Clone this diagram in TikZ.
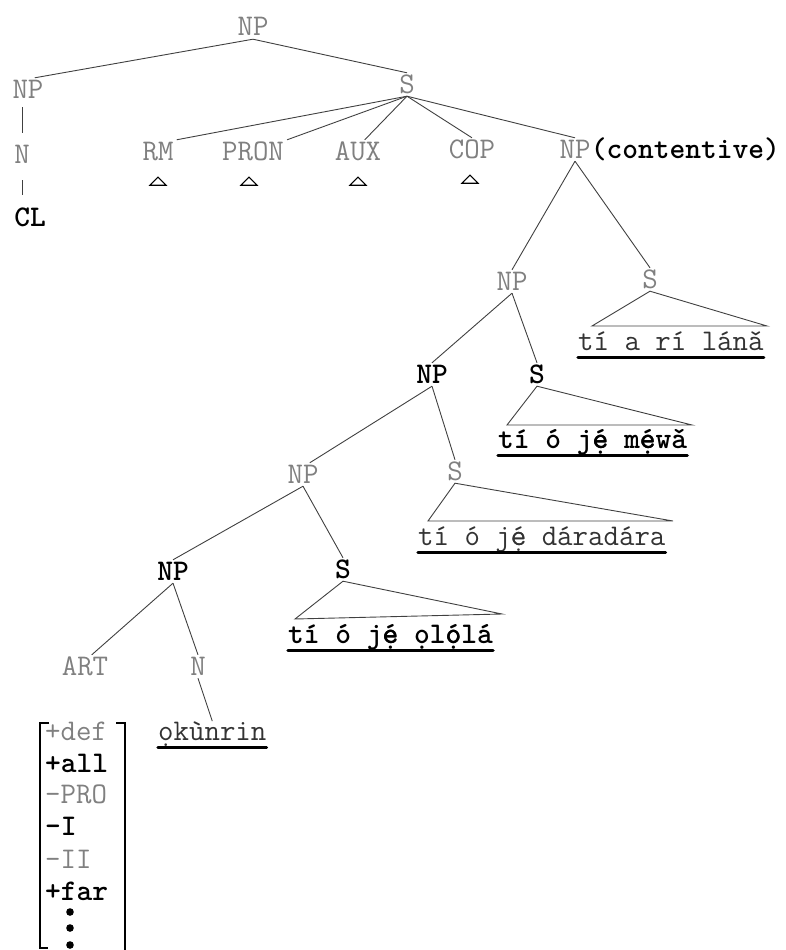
\documentclass[tikz,border=0pt]{standalone}
\usetikzlibrary{positioning,calc}
\newcommand\dotac[2]{\ooalign{#1\cr#2}}
\begin{document}
\begin{tikzpicture}[x=1pt,y=-1pt,font=\ttfamily\fontsize{30}{34}\selectfont,
  lab/.style={inner sep=3pt,text height=17pt,text depth=0pt,anchor=base},
  lite/.style={lab,text=black!50},
  dark/.style={lab,text=black,font=\ttfamily\bfseries\fontsize{30}{34}\selectfont},
  branch/.style={draw=black!75,line width=0.9pt},
  tri/.style={draw=black,line width=1.1pt},
  yor/.style={anchor=base west,inner sep=0pt,text depth=7pt,text=black!80},
  yorb/.style={yor,text=black,font=\ttfamily\bfseries\fontsize{30}{34}\selectfont},
  uline/.style={line width=3.2pt,line cap=round},
  flite/.style={anchor=base west,inner sep=0pt,text=black!50},
  fdark/.style={flite,text=black,font=\ttfamily\bfseries\fontsize{30}{34}\selectfont}]
\useasboundingbox (0,0) rectangle (786,950);
\node[lite] (root) at (253,36) {NP};
\node[lite] (np1) at (28,98) {NP};
\node[lite] (n1) at (22,163) {N};
\node[dark] (cl) at (30,226) {CL};
\node[lite] (s1) at (407,93) {S};
\node[lite] (rm) at (158,160) {RM};
\node[lite] (pron) at (253,160) {PRON};
\node[lite] (aux) at (358,160) {AUX};
\node[lite] (cop) at (472,158) {COP};
\node[lite] (npc) at (575,158) {NP};
\node[dark,base right=-6pt of npc] (cont) {(contentive)};
\node[lite] (np2) at (512,290) {NP};
\node[lite] (s2) at (650,288) {S};
\node[dark] (np3) at (432,383) {NP};
\node[dark] (s3) at (537,383) {S};
\node[lite] (np4) at (303,483) {NP};
\node[lite] (s4) at (455,480) {S};
\node[dark] (np5) at (173,580) {NP};
\node[dark] (s5) at (343,578) {S};
\node[lite] (art) at (85,675) {ART};
\node[lite] (n2) at (198,675) {N};
\node[yor] (lana) at (578,350) {tí a rí lánǎ};
\node[yorb] (mewa) at (498,448) {tí ó j\dotac{ẹ}{é} m\dotac{ẹ}{é}wǎ};
\node[yor] (dara) at (418,545) {tí ó j\dotac{ẹ}{é} dáradára};
\node[yorb] (olola) at (288,643) {tí ó j\dotac{ẹ}{é} ọl\dotac{ọ}{ó}lá};
\node[yor] (okunrin) at (158,740) {ọkùnrin};
\draw[branch] (root.south) -- (np1.60);
\draw[branch] (root.south) -- (s1.north);
\draw[branch] ([yshift=-6pt]np1.south -| n1.north) -- ([yshift=10pt]n1.north);
\draw[branch] ([yshift=-14pt]n1.south) -- ([yshift=11pt]n1.south |- cl.north);
\draw[branch] (s1.south) -- (rm.north east);
\draw[branch] (s1.south) -- (pron.north east);
\draw[branch] (s1.south) -- (aux.60);
\draw[branch] (s1.south) -- (cop.north);
\draw[branch] (s1.south) -- (npc.north);
\draw[branch] (npc.south) -- (np2.north);
\draw[branch] (npc.south) -- (s2.north);
\draw[branch] (np2.south) -- (np3.north);
\draw[branch] (np2.south) -- (s3.north);
\draw[branch] (np3.south) -- (np4.60);
\draw[branch] (np3.south) -- (s4.north);
\draw[branch] (np4.south) -- (np5.north);
\draw[branch] (np4.south) -- (s5.north);
\draw[branch] (np5.south) -- (art.60);
\draw[branch] (np5.south) -- (n2.north);
\draw[branch] (n2.south) -- (okunrin.north);
\draw[branch] (s2.south) -- (592,326) -- (767,326) -- cycle;
\draw[branch] (s3.south) -- (507,425) -- (692,425) -- cycle;
\draw[branch] (s4.south) -- (428,521) -- (673,521) -- cycle;
\draw[branch] (s5.south) -- (295,619) -- (502,614) -- cycle;
\foreach \n/\dx in {rm/0,pron/-4,aux/0,cop/-2}
  \draw[tri] ($(\n.south)+(\dx-8,22)$) -- ++(8,-8) -- ++(8,8) -- cycle;
\foreach \t in {lana,mewa,dara,olola,okunrin}
  \draw[uline] (\t.south west) -- (\t.south east);
\foreach \y/\t/\s in {740/+def/flite,772/+all/fdark,803/-PRO/flite,835/-I/fdark,868/-II/flite,900/+far/fdark}
  \node[\s] (f\y) at (45,\y) {\t};
\foreach \y in {912,928,945}
  \fill (70,\y) circle (3.8pt);
\draw[line width=1.3pt] (49,723) -- (40,723) -- (40,948) -- (48,948);
\draw[line width=1.3pt] (116,723) -- (125,723) -- (125,950);
\end{tikzpicture}
\end{document}
